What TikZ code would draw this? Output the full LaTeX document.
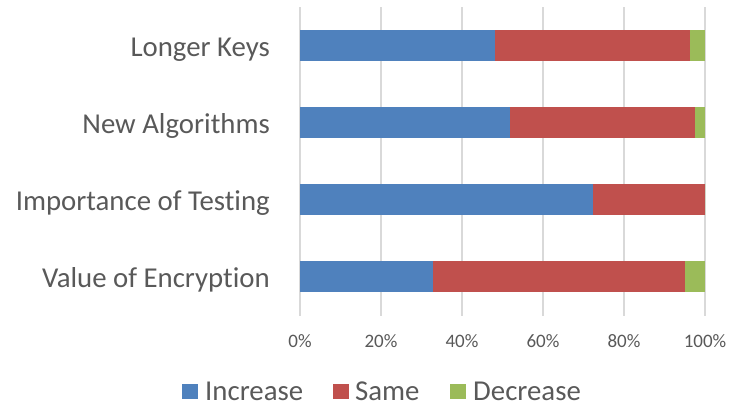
\documentclass[tikz,border=0pt]{standalone}
\usepackage{fontspec}
\setmainfont[Ligatures={NoCommon}]{Carlito}
\definecolor{cinc}{HTML}{4F81BD}
\definecolor{csame}{HTML}{C0504D}
\definecolor{cdec}{HTML}{9BBB59}
\definecolor{ctxt}{HTML}{595959}
\definecolor{cgrid}{HTML}{D9D9D9}
\newcommand{\mybar}[5]{%
  \fill[cinc] (300,#1-15.5) rectangle (300+4.05*#2,#1+15.5);
  \fill[csame] (300+4.05*#2,#1-15.5) rectangle (300+4.05*#2+4.05*#3,#1+15.5);
  \fill[cdec] (300+4.05*#2+4.05*#3,#1-15.5) rectangle (705,#1+15.5);
  \node[cat] (#5) at (270,#1+10.5) {#4};
}
\begin{document}
\begin{tikzpicture}[x=1pt,y=-1pt,
  grid/.style={draw=cgrid,line width=1.5pt},
  cat/.style={anchor=base east,text=ctxt,font=\fontsize{28.8}{30}\selectfont,inner sep=0pt},
  tick/.style={anchor=base,text=ctxt,font=\fontsize{19}{21}\selectfont,inner sep=0pt},
  leg/.style={anchor=base west,text=ctxt,font=\fontsize{28.8}{30}\selectfont,inner sep=0pt},
  sq/.style={minimum size=15.5pt,inner sep=0pt,anchor=north west}]
\useasboundingbox (0,0) rectangle (730,411);
% gridlines
\foreach \i in {0,...,5}{
  \coordinate (gt\i) at (300+81*\i,7.5);
  \coordinate (gb\i) at (300+81*\i,315.5);
  \draw[grid] (gt\i) -- (gb\i);
}
% tick labels
\foreach \i/\t in {0/0\%,1/20\%,2/40\%,3/60\%,4/80\%,5/100\%}{
  \node[tick] (tk\i) at (300+81*\i,347) {\t};
}
% bars
\mybar{46}{48.1}{48.3}{Longer Keys}{c1}
\mybar{123}{51.9}{45.7}{New Algorithms}{c2}
\mybar{200}{72.3}{27.7}{Importance of Testing}{c3}
\mybar{277}{32.9}{62.2}{Value of Encryption}{c4}
% legend
\node[sq,fill=cinc] (l1) at (182,383.5) {};
\node[leg] (t1) at (205,400.5) {Increase};
\node[sq,fill=csame] (l2) at (333,383.5) {};
\node[leg] (t2) at (355,400.5) {Same};
\node[sq,fill=cdec] (l3) at (450,383.5) {};
\node[leg] (t3) at (473,400.5) {Decrease};
\end{tikzpicture}
\end{document}
